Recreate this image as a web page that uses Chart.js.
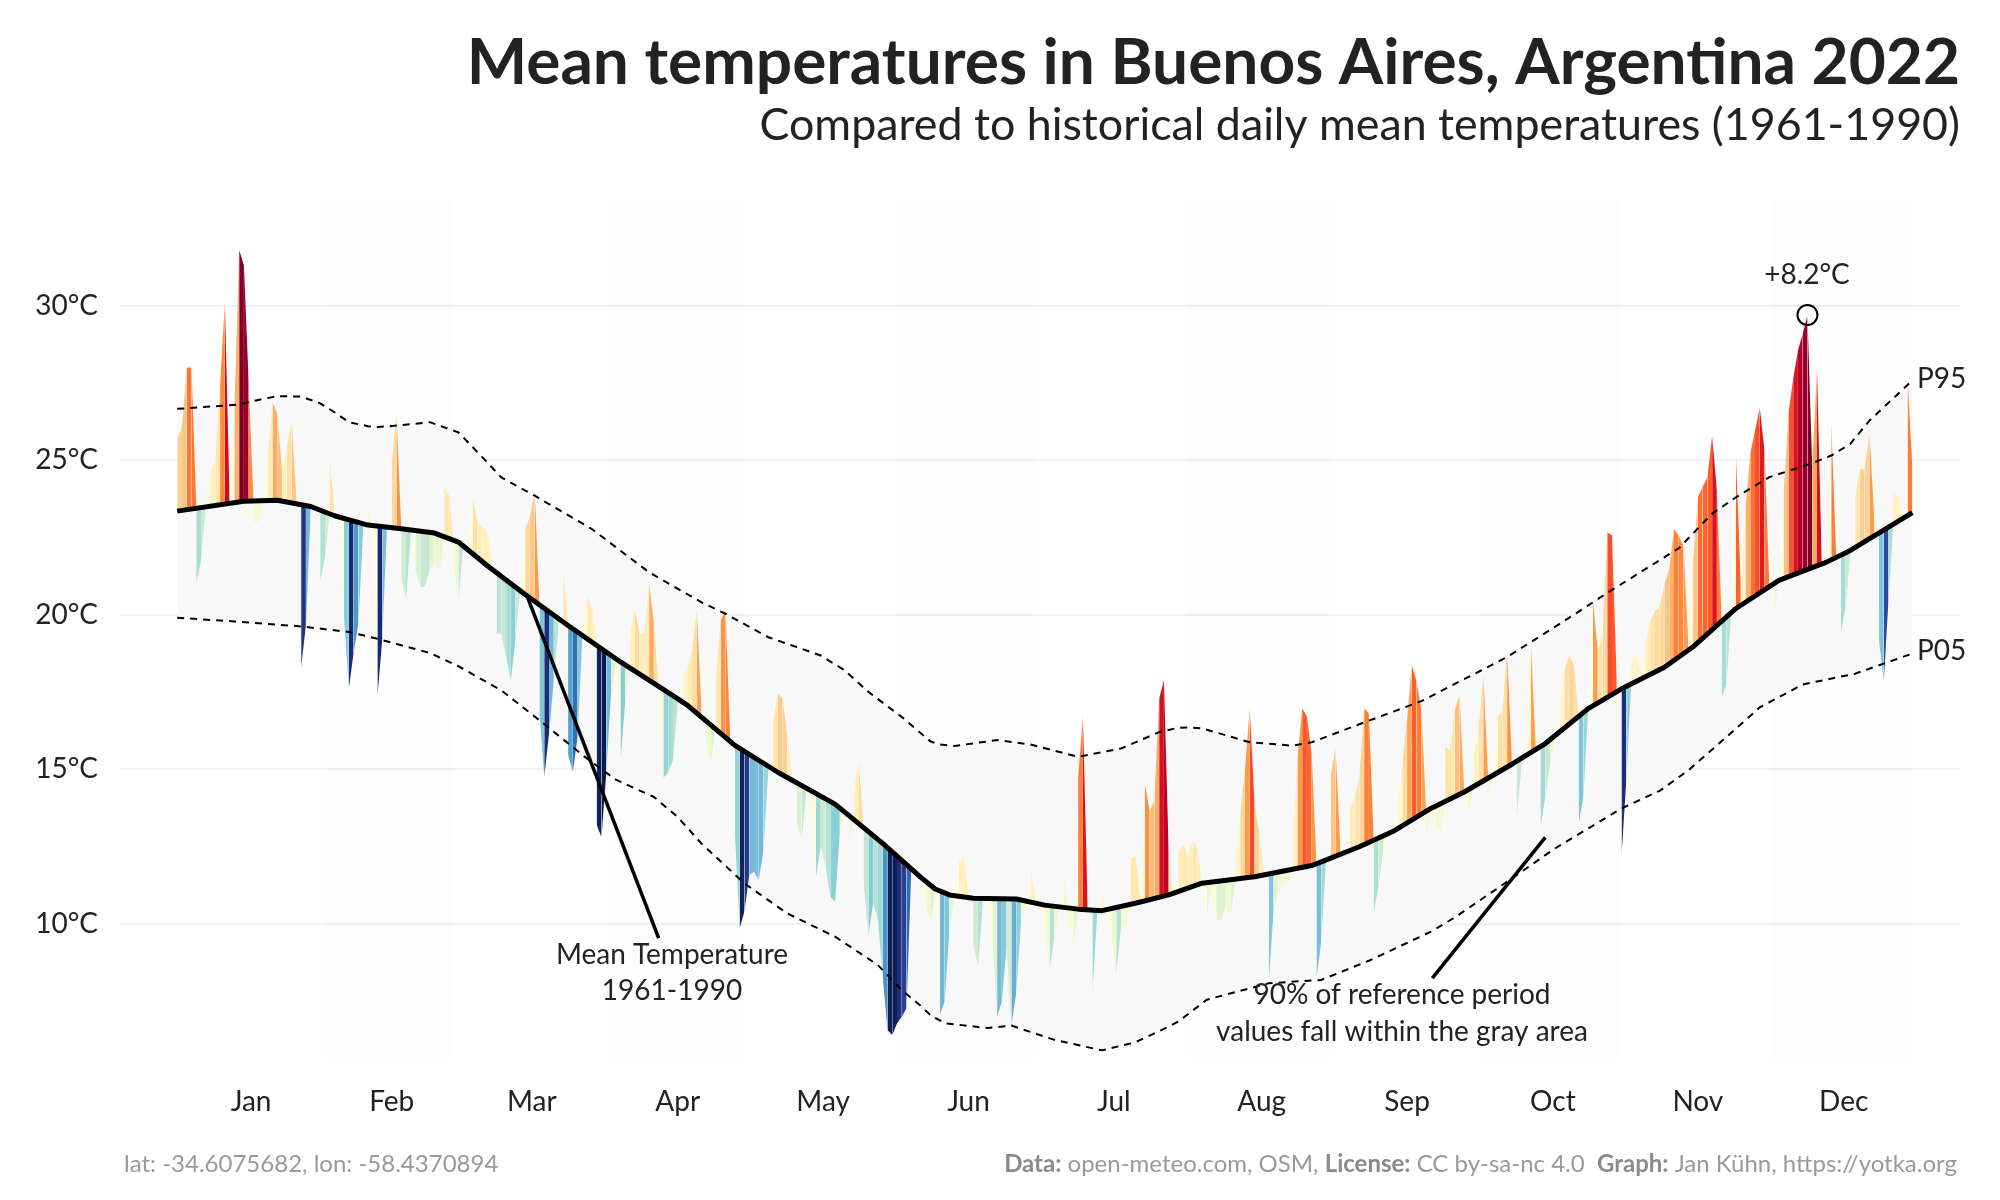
<!DOCTYPE html>
<html>
<head>
<meta charset="utf-8">
<title>Mean temperatures in Buenos Aires</title>
<script src="https://cdn.jsdelivr.net/npm/chart.js@4"></script>
<style>html,body{margin:0;padding:0;background:#fff}canvas{display:block}</style>
</head>
<body>
<canvas id="c" width="2000" height="1200"></canvas>
<script>
const monthLabels = ['Jan','Feb','Mar','Apr','May','Jun','Jul','Aug','Sep','Oct','Nov','Dec'];
const monthMidDays = [15.5,45,74.4,105,135.5,166,196.5,227.5,258,288.6,319,349.6];
const bandStarts = [31,90,151,212,273,334];
const bandEnds = [58,119,180,242,303,364];
const yTicks = [10,15,20,25,30];

const temps = [
25.7,26.07,28.0,28.0,21.0,21.75,23.6,24.56,25.04,27.47,
30.1,23.7,26.7,31.8,31.3,27.5,23.0,23.0,23.7,25.1,
26.87,26.5,24.66,25.4,26.28,23.8,18.3,19.65,23.4,23.9,
21.1,21.86,25.0,23.4,23.1,19.92,17.6,18.75,19.7,22.7,
23.5,22.83,17.34,19.17,22.78,24.88,26.5,21.2,20.5,22.6,
21.43,20.9,20.9,21.48,21.7,21.43,24.07,23.9,21.65,20.41,
22.5,22.15,23.75,22.99,22.83,22.7,21.65,19.38,19.38,18.63,
17.87,19.28,20.78,22.78,23.15,23.96,16.8,14.75,16.15,17.87,
19.6,21.43,15.45,14.91,16.04,19.6,20.57,20.25,13.2,12.8,
14.85,17.44,18.4,15.23,17.23,19.33,20.19,19.38,19.38,21.05,
19.7,17.5,14.72,14.91,15.3,17.1,17.87,18.3,18.79,20.14,
16.9,15.72,15.23,17.87,19.81,20.14,16.04,12.92,9.85,10.4,
11.57,11.68,11.41,12.38,14.96,16.58,17.46,17.28,16.04,14.75,
13.24,12.72,14.32,14.0,11.52,12.49,11.84,10.87,10.71,12.92,
13.67,12.65,14.43,15.23,11.3,9.63,10.65,10.12,8.28,6.56,
6.4,6.77,6.99,7.26,11.84,11.95,11.3,10.6,10.0,11.04,
7.05,7.48,9.8,10.95,12.0,12.19,10.98,9.3,8.61,10.7,
10.66,9.58,6.98,7.48,9.26,6.73,7.75,10.0,10.55,11.79,
10.88,10.55,10.0,8.45,9.58,10.45,11.42,10.12,9.3,14.75,
16.7,10.55,7.75,10.34,11.04,10.34,9.58,8.34,9.9,9.9,
12.12,12.17,10.88,14.54,13.62,14.0,17.29,17.88,12.28,10.55,
12.28,12.58,12.22,12.71,12.49,11.3,10.28,11.2,10.12,10.12,
10.6,10.23,12.06,13.57,15.0,16.96,13.9,12.92,11.63,8.13,
10.45,11.04,11.2,11.31,12.8,15.3,16.98,16.7,15.5,8.24,
9.42,12.06,14.8,15.67,12.49,11.9,13.68,14.11,14.76,16.96,
16.8,10.34,11.2,12.38,12.92,13.03,13.68,15.19,16.59,18.37,
17.83,16.91,12.92,13.5,13.13,12.97,15.72,15.61,16.9,17.39,
14.0,13.62,15.4,16.26,18.09,14.1,15.0,16.69,16.85,18.84,
15.18,13.46,15.07,15.83,18.95,15.72,13.13,14.1,15.18,15.93,
16.9,18.2,18.68,18.36,13.24,14.1,17.0,20.5,18.84,19.33,
22.67,22.56,17.77,12.2,14.64,18.47,18.76,18.14,19.06,19.81,
20.12,20.25,21.0,21.48,22.78,22.55,22.19,19.1,21.65,23.8,
24.13,24.45,25.8,24.0,17.34,17.72,20.2,25.15,21.0,23.48,
25.21,25.96,26.7,25.3,20.95,20.09,21.2,23.9,26.5,27.63,
28.55,29.09,29.68,24.78,27.95,21.76,21.75,26.18,21.97,19.44,
20.25,21.97,23.8,24.7,24.7,25.9,23.16,19.17,17.82,20.47,
23.97,23.8,22.6,27.63,24.77
];

const meanDays = [0,14,21,28,33,40,47,54,59,65,73,82,93,104,107,117,126,138,148,156,159,162,167,176,182,189,194,201,208,215,226,238,248,255,263,270,280,287,296,303,312,318,327,336,346,351,364];
const meanTemps = [23.35,23.67,23.7,23.5,23.2,22.9,22.78,22.64,22.35,21.59,20.65,19.65,18.47,17.38,17.07,15.77,14.9,13.87,12.6,11.5,11.12,10.93,10.82,10.8,10.6,10.47,10.42,10.66,10.93,11.31,11.52,11.88,12.49,12.98,13.73,14.26,15.16,15.83,16.96,17.6,18.3,18.96,20.2,21.11,21.7,22.08,23.3];

const p95Days = [0,13,17,21,26,30,33,36,40,42,47,53,59,64,68,75,87,99,110,115,124,135,140,145,152,158,160,163,172,179,189,198,206,210,212,215,225,234,238,250,261,279,290,301,315,322,327,334,343,347,351,355,364];
const p95Temps = [26.66,26.8,26.95,27.07,27.06,26.84,26.55,26.23,26.1,26.07,26.13,26.23,25.9,25.1,24.44,23.85,22.77,21.37,20.4,20.03,19.27,18.68,18.2,17.5,16.69,15.9,15.8,15.75,15.94,15.8,15.4,15.67,16.2,16.34,16.35,16.32,15.87,15.76,15.87,16.57,17.2,18.63,19.7,20.8,22.15,23.27,23.8,24.45,24.9,25.15,25.53,26.28,27.58];

const p05Days = [0,12,26,36,42,53,59,68,76,86,92,100,105,110,119,128,138,147,152,156,158,161,170,175,184,194,201,208,210,216,229,240,250,263,268,278,289,303,311,317,327,332,341,352,364];
const p05Temps = [19.9,19.78,19.62,19.44,19.22,18.76,18.33,17.55,16.58,15.34,14.66,14.1,13.45,12.59,11.3,10.33,9.58,8.66,7.85,7.34,7.04,6.78,6.62,6.7,6.24,5.9,6.16,6.67,6.83,7.54,8.07,8.18,8.8,9.74,10.2,11.25,12.43,13.73,14.3,14.96,16.31,17.0,17.74,18.09,18.74];

const leaderMeanDays = [73.2,101];
const leaderMeanTemps = [20.68,9.53];
const leaderBandDays = [287,263.3];
const leaderBandTemps = [12.79,8.24];
const peakDay = [342];
const peakTemp = [29.7];

const yMin = 5.62, yMax = 33.46, xMin = -12, xMax = 374;

const warmStops = [[0,'#fffde2'],[0.5,'#fff8d2'],[1,'#fff1bd'],[1.5,'#fee8b0'],[2,'#fddb9f'],[2.5,'#fdcc90'],[3,'#feb46e'],[3.5,'#fd9a48'],[4,'#fe8439'],[4.5,'#fe7a35'],[5,'#fd5f2c'],[5.5,'#f9452a'],[6,'#e31a1c'],[7,'#c00026'],[7.5,'#a50030'],[8.2,'#800026']];
const coolStops = [[0,'#fffde2'],[0.5,'#f6fad2'],[1,'#ecf7cf'],[1.5,'#d2ecd0'],[2,'#bce4d6'],[2.5,'#a6dcd4'],[3,'#8ed2d6'],[3.5,'#7ec5da'],[4,'#72b5d8'],[4.5,'#2e84bc'],[5,'#2a3f99'],[5.5,'#1a2b74'],[6,'#0a1c50']];

function hexRgb(h){return [1,3,5].map(i=>parseInt(h.substr(i,2),16));}
function ramp(stops,v){
  if(v<=stops[0][0])return stops[0][1];
  for(let i=1;i<stops.length;i++){
    if(v<=stops[i][0]){
      const t=(v-stops[i-1][0])/(stops[i][0]-stops[i-1][0]);
      const a=hexRgb(stops[i-1][1]),b=hexRgb(stops[i][1]);
      return 'rgb('+a.map((c,k)=>Math.round(c+(b[k]-c)*t)).join(',')+')';
    }
  }
  return stops[stops.length-1][1];
}
function meanAt(d){
  for(let i=1;i<meanDays.length;i++){
    if(d<=meanDays[i]){
      const t=(d-meanDays[i-1])/(meanDays[i]-meanDays[i-1]);
      return meanTemps[i-1]+(meanTemps[i]-meanTemps[i-1])*t;
    }
  }
  return meanTemps[meanTemps.length-1];
}
const toPts=(xs,ys)=>xs.map((x,i)=>({x,y:ys[i]}));
const anomalies = temps.map((t,i)=>t-meanAt(i));
const abovePts = temps.map((t,i)=>({x:i,y:Math.max(t,meanAt(i))}));
const belowPts = temps.map((t,i)=>({x:i,y:Math.min(t,meanAt(i))}));

const baseLine = {pointRadius:0,pointHoverRadius:0,tension:0,borderWidth:0,fill:false,showLine:true};
const datasets = [];
// 0: mean line, also the fill target of the anomaly stripes
datasets.push({...baseLine,label:'Mean',data:toPts(meanDays,meanTemps),borderColor:'#000',borderWidth:5,borderJoinStyle:'round',order:2});
// 1, 2: anomaly stripes
datasets.push({...baseLine,label:'Above',data:abovePts,backgroundColor:'transparent',fill:{target:0},order:5,
  segment:{backgroundColor:c=>anomalies[c.p0DataIndex]>0?ramp(warmStops,anomalies[c.p0DataIndex]):'transparent'}});
datasets.push({...baseLine,label:'Below',data:belowPts,backgroundColor:'transparent',fill:{target:0},order:5,
  segment:{backgroundColor:c=>anomalies[c.p0DataIndex]<0?ramp(coolStops,-anomalies[c.p0DataIndex]):'transparent'}});
// 3: P05 line, 4: P95 line
datasets.push({...baseLine,label:'P05',data:toPts(p05Days,p05Temps),borderColor:'#000',borderWidth:2,borderDash:[7,6],order:4});
datasets.push({...baseLine,label:'P95',data:toPts(p95Days,p95Temps),borderColor:'#000',borderWidth:2,borderDash:[7,6],order:4});
// 5: gray ribbon, filled down to P05
datasets.push({...baseLine,label:'Range',data:toPts(p95Days,p95Temps),backgroundColor:'#f8f8f8',fill:{target:3},order:8});
// leaders and peak marker
datasets.push({...baseLine,label:'Leader mean',data:toPts(leaderMeanDays,leaderMeanTemps),borderColor:'#000',borderWidth:3.5,order:1});
datasets.push({...baseLine,label:'Leader band',data:toPts(leaderBandDays,leaderBandTemps),borderColor:'#000',borderWidth:3.5,order:1});
datasets.push({...baseLine,label:'Peak',data:toPts(peakDay,peakTemp),showLine:false,pointRadius:10,pointBorderColor:'#000',pointBorderWidth:2,pointBackgroundColor:'rgba(0,0,0,0)',order:1});
// month bands
bandStarts.forEach((s,i)=>{
  datasets.push({...baseLine,label:'Band',data:[{x:s,y:yMax},{x:bandEnds[i],y:yMax}],backgroundColor:'rgba(0,0,0,0.008)',fill:'start',order:10});
});

const ink='#222222';
const textPlugin = {
  id:'texts',
  afterDraw(chart){
    const ctx=chart.ctx;
    ctx.save();
    ctx.fillStyle=ink;
    ctx.textBaseline='alphabetic';
    ctx.font='400 28px Lato';
    ctx.textAlign='center';
    ctx.fillText('Mean Temperature',672,964);
    ctx.fillText('1961-1990',672,1000);
    ctx.fillText('90% of reference period',1402,1004);
    ctx.fillText('values fall within the gray area',1402,1041);
    ctx.fillText('+8.2°C',1807,284);
    ctx.textAlign='left';
    ctx.fillText('P95',1917,388);
    ctx.fillText('P05',1917,660);
    ctx.font='400 24px Lato';
    ctx.fillStyle='#999999';
    ctx.fillText('lat: -34.6075682, lon: -58.4370894',124,1172);
    const runs=[['Data:',1],[' open-meteo.com, OSM, ',0],['License:',1],[' CC by-sa-nc 4.0  ',0],['Graph:',1],[' Jan Kühn, https://yotka.org',0]];
    let total=0;
    runs.forEach(r=>{ctx.font=(r[1]?'700':'400')+' 24px Lato';total+=ctx.measureText(r[0]).width;});
    let x=1957-total;
    runs.forEach(r=>{
      ctx.font=(r[1]?'700':'400')+' 24px Lato';
      ctx.fillStyle=r[1]?'#8a8a8a':'#999999';
      ctx.fillText(r[0],x,1172);
      x+=ctx.measureText(r[0]).width;
    });
    ctx.restore();
  }
};

new Chart(document.getElementById('c'),{
  type:'line',
  data:{datasets},
  plugins:[textPlugin],
  options:{
    responsive:false,animation:false,devicePixelRatio:1,
    layout:{padding:{left:0,right:40,top:0,bottom:0}},
    plugins:{
      legend:{display:false},tooltip:{enabled:false},
      filler:{propagate:false},
      title:{display:true,text:'Mean temperatures in Buenos Aires, Argentina 2022',align:'end',color:ink,
        font:{family:'Lato',size:64,weight:'700',lineHeight:1},padding:{top:31,bottom:0}},
      subtitle:{display:true,text:'Compared to historical daily mean temperatures (1961-1990)',align:'end',color:ink,
        font:{family:'Lato',size:44.75,weight:'400',lineHeight:1},padding:{top:8,bottom:51}}
    },
    scales:{
      x:{type:'linear',min:xMin,max:xMax,
        grid:{display:false},border:{display:false},
        afterBuildTicks(s){s.ticks=monthMidDays.map(v=>({value:v}));},
        afterFit(s){s.height=141;},
        ticks:{autoSkip:false,maxRotation:0,padding:18,color:ink,font:{family:'Lato',size:28},
          callback:(v,i)=>monthLabels[i]}
      },
      y:{type:'linear',min:yMin,max:yMax,
        grid:{color:'#eef0fa',lineWidth:2,drawTicks:false},border:{display:false},
        afterBuildTicks(s){s.ticks=yTicks.map(v=>({value:v}));},
        afterFit(s){s.width=120;},
        ticks:{padding:22,color:ink,font:{family:'Lato',size:28},callback:v=>v+'°C'}
      }
    }
  }
});
</script>
</body>
</html>
